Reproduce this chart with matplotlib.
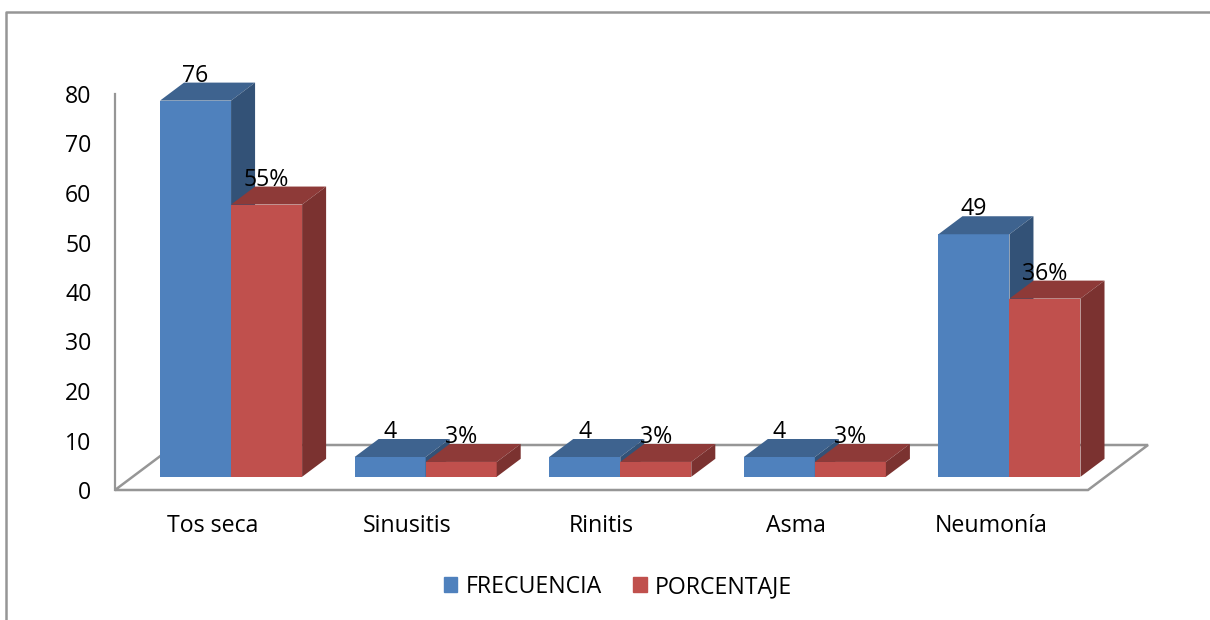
from matplotlib import pyplot as plt
from matplotlib.lines import Line2D
from matplotlib.patches import Patch, Polygon

plt.rcParams['font.family'] = ['Open Sans', 'DejaVu Sans']

categorias = ['Tos seca', 'Sinusitis', 'Rinitis', 'Asma', 'Neumonía']
frecuencia = [76, 4, 4, 4, 49]
porcentaje = [55, 3, 3, 3, 36]
y_ticks = [0, 10, 20, 30, 40, 50, 60, 70, 80]

W, H = 1210, 620
gris = '#969696'
font_size = 16.7

# x scale: one category = 194.5 px, y scale: one unit = 4.95 px
px_x = 1 / 194.5
px_y = 1 / 4.95
bar_w = 71 * px_x
depth_x, depth_y = 24 * px_x, 18 * px_y
base_x, base_y = 18.75 * px_x, 13.2 * px_y
floor_x, floor_y = 60 * px_x, 45 * px_y


def bar3d(ax, left, value, front, top, side):
    right = left + bar_w
    low = base_y
    high = base_y + value
    ax.bar(left, value, bar_w, bottom=low, align='edge', color=front, zorder=3, clip_on=False)
    ax.add_patch(Polygon([(left, high), (right, high), (right + depth_x, high + depth_y),
                          (left + depth_x, high + depth_y)], color=top, lw=0, zorder=3, clip_on=False))
    ax.add_patch(Polygon([(right, low), (right, high), (right + depth_x, high + depth_y),
                          (right + depth_x, low + depth_y)], color=side, lw=0, zorder=3, clip_on=False))


fig = plt.figure(figsize=(W / 100, H / 100), dpi=100)
ax = fig.add_axes([115 / W, 1 - 490 / H, 973 / W, 396 / H])
ax.set_xlim(-0.5, 4.5)
ax.set_ylim(0, 80)
ax.patch.set_alpha(0)

for name in ['top', 'right', 'bottom']:
    ax.spines[name].set_visible(False)
ax.spines['left'].set_color(gris)
ax.spines['left'].set_linewidth(1.6)

ax.add_patch(Polygon([(-0.5, 0), (4.5, 0), (4.5 + floor_x, floor_y), (-0.5 + floor_x, floor_y)],
                     facecolor='white', edgecolor=gris, lw=1.8, clip_on=False, zorder=1))

for i in range(len(categorias)):
    left = i + base_x - bar_w
    bar3d(ax, left, frecuencia[i], '#4F81BD', '#3E638F', '#335277')
    bar3d(ax, left + bar_w, porcentaje[i], '#C0504D', '#8E3A38', '#7B3230')
    ax.annotate(str(frecuencia[i]), (left + bar_w / 2, base_y + frecuencia[i]), xytext=(0, 18),
                textcoords='offset points', ha='center', va='center', fontsize=font_size,
                color='black', zorder=5)
    ax.annotate('%d%%' % porcentaje[i], (left + 1.5 * bar_w, base_y + porcentaje[i]), xytext=(0, 18),
                textcoords='offset points', ha='center', va='center', fontsize=font_size,
                color='black', zorder=5)

ax.set_xticks(range(len(categorias)))
ax.set_xticklabels(categorias, fontsize=font_size)
ax.set_yticks(y_ticks)
ax.tick_params(axis='y', length=0, pad=17, labelsize=font_size)
ax.tick_params(axis='x', length=0, pad=17.5)

# outer frame of the chart, only top and left are in the picture
fig.add_artist(Line2D([6 / W, 6 / W, 1], [0, 1 - 12 / H, 1 - 12 / H], color=gris, lw=1.8))

handles = [Patch(color='#4F81BD', label='FRECUENCIA'), Patch(color='#C0504D', label='PORCENTAJE')]
fig.legend(handles=handles, loc='center', bbox_to_anchor=(618 / W, 1 - 587 / H), ncols=2,
           frameon=False, fontsize=font_size, handlelength=0.6, handleheight=0.6,
           handletextpad=0.35, columnspacing=1.35)

fig.savefig('out.png', dpi=100)
